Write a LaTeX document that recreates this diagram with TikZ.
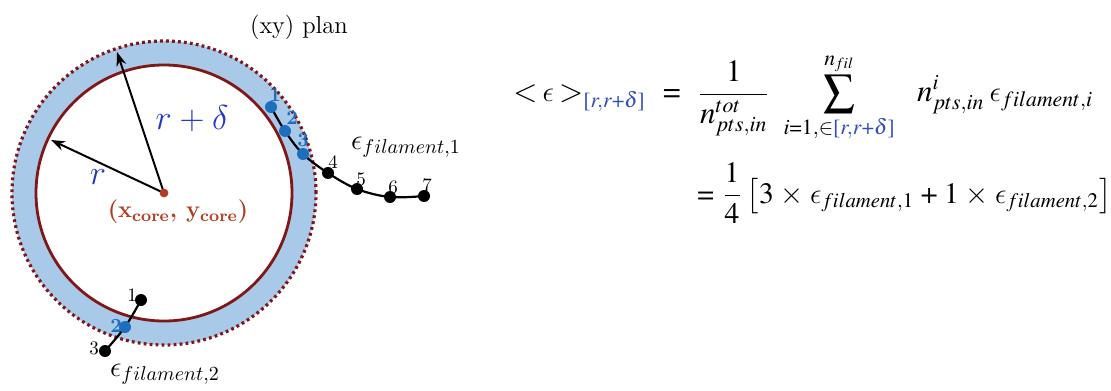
\documentclass[tikz,border=0pt]{standalone}
\usepackage{amsmath}
\usetikzlibrary{arrows.meta}
\DeclareMathVersion{times}
\SetSymbolFont{operators}{times}{OT1}{ptm}{m}{n}
\SetSymbolFont{letters}{times}{OML}{ztmcm}{m}{it}
\SetSymbolFont{symbols}{times}{OMS}{ztmcm}{m}{n}
\SetSymbolFont{largesymbols}{times}{OMX}{ztmcm}{m}{n}
\DeclareSymbolFont{cmlet}{OML}{cmm}{m}{it}
\DeclareMathSymbol{\lunate}{\mathord}{cmlet}{"0F}
\definecolor{ringblue}{HTML}{A9C9E9}
\definecolor{darkred}{HTML}{801616}
\definecolor{labblue}{HTML}{2436C8}
\definecolor{eqblue}{HTML}{2F4FB8}
\definecolor{ptblue}{HTML}{1E6EBE}
\definecolor{corecol}{HTML}{B43C1E}
\tikzset{
  ptb/.style={circle,fill=ptblue,inner sep=0pt,minimum size=6pt},
  ptk/.style={circle,fill=black,inner sep=0pt,minimum size=6pt},
  numb/.style={font=\fontsize{10}{11}\selectfont\bfseries,text=ptblue,inner sep=0pt},
  numk/.style={font=\fontsize{9.5}{10}\selectfont,inner sep=0pt},
  fil/.style={line width=1.1pt,black},
  radarrow/.style={-{Stealth[length=7pt,width=5pt]},line width=1pt},
  eqline/.style={anchor=base west,inner sep=0pt,font=\fontsize{15.5}{18}\selectfont}
}
\begin{document}
\begin{tikzpicture}[x=0.5pt,y=-0.5pt]
\useasboundingbox (0,0) rectangle (1111,390);
% ring
\coordinate (c) at (164,193);
\fill[ringblue,even odd rule] (c) circle[radius=76pt] (c) circle[radius=64pt];
\draw[darkred,line width=1.6pt,dash pattern=on 1.4pt off 1.6pt] (c) circle[radius=76pt];
\draw[darkred,line width=1.4pt] (c) circle[radius=64pt];
% radii
\coordinate (tipo) at (117,52);
\coordinate (tipi) at (51,140);
\draw[radarrow] (c) -- (tipo);
\draw[radarrow] (c) -- (tipi);
\fill[corecol] (c) circle[radius=2.2pt];
\node[text=labblue,font=\fontsize{19}{21}\selectfont] (rd) at (192,119) {$r+\delta$};
\node[text=labblue,font=\fontsize{19}{21}\selectfont] (rr) at (98,177) {$r$};
\node[text=corecol,font=\fontsize{11.8}{14}\selectfont\bfseries] (core) at (178,212) {(x\textsubscript{core}, y\textsubscript{core})};
\node[font=\fontsize{12.3}{14}\selectfont] (plan) at (299,27) {(xy) plan};
% filament 1
\coordinate (a1) at (271,107);
\coordinate (a2) at (285,131);
\coordinate (a3) at (303,154);
\coordinate (a4) at (328,173);
\coordinate (a5) at (357,189);
\coordinate (a6) at (390,197);
\coordinate (a7) at (424,196);
\draw[fil] plot[smooth,tension=0.6] coordinates {(271,107) (285,131) (303,154) (328,173) (357,189) (390,197) (424,196)};
\foreach \p in {a1,a2,a3} \node[ptb] at (\p) {};
\foreach \p in {a4,a5,a6,a7} \node[ptk] at (\p) {};
\node[numb] (n1) at (275,95) {1};
\node[numb] (n2) at (292,118) {2};
\node[numb] (n3) at (303,140) {3};
\node[numk] (n4) at (333,162) {4};
\node[numk] (n5) at (361,179) {5};
\node[numk] (n6) at (393,187) {6};
\node[numk] (n7) at (427,185) {7};
\node[font=\fontsize{14.4}{16}\selectfont] (e1) at (406,147) {$\epsilon_{filament,1}$};
% filament 2
\coordinate (b1) at (141,300);
\coordinate (b2) at (125,327);
\coordinate (b3) at (105,351);
\draw[fil] plot[smooth,tension=0.6] coordinates {(141,300) (125,327) (105,351)};
\node[ptk] at (b1) {};
\node[ptb] at (b2) {};
\node[ptk] at (b3) {};
\node[numk] (m1) at (132,295) {1};
\node[numb] (m2) at (116,326) {2};
\node[numk] (m3) at (94,348) {3};
\node[font=\fontsize{14.4}{16}\selectfont] (e2) at (165,374) {$\epsilon_{filament,2}$};
% equation
\node[eqline] (eq1) at (513,102)
 {{\mathversion{times}$\displaystyle \mathord{<}\,\lunate\,\mathord{>}_{\color{eqblue}[r,r+\delta]}\;=\;\frac{1}{n^{tot}_{pts,in}}\;\sum_{i=1,\in{\color{eqblue}[r,r+\delta]}}^{n_{fil}}\;\; n^{i}_{pts,in}\,\lunate_{filament,i}$}};
\node[eqline,font=\fontsize{14.8}{17}\selectfont] (eq2) at (697,203)
 {{\mathversion{times}$\displaystyle = \frac{1}{4}\left[3\times\lunate_{filament,1}+1\times\lunate_{filament,2}\right]$}};
\end{tikzpicture}
\end{document}
